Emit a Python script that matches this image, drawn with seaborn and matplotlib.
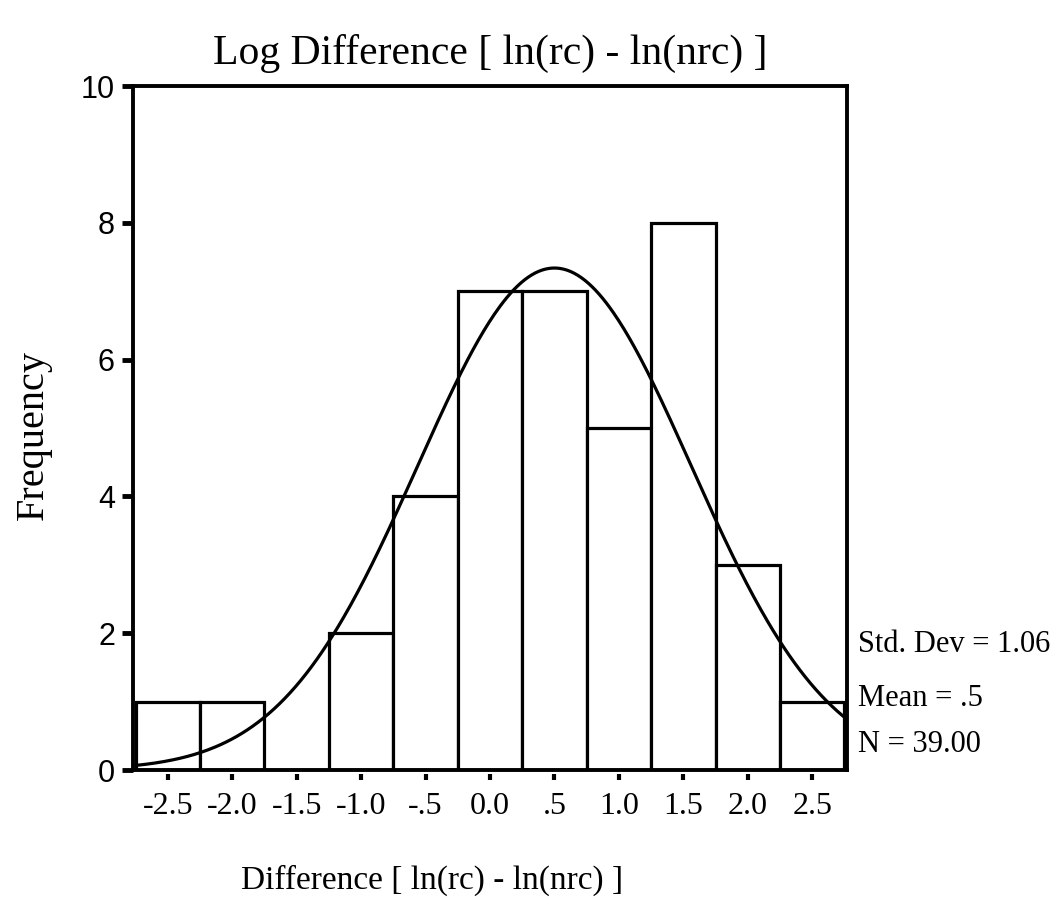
import numpy as np
import pandas as pd
import matplotlib
matplotlib.use("Agg")
import matplotlib.pyplot as plt
from matplotlib.path import Path
from matplotlib.markers import MarkerStyle
import seaborn as sns

# Histogram of the log difference, binned at width 0.5
bin_centers = [-2.5, -2.0, -1.5, -1.0, -0.5, 0.0, 0.5, 1.0, 1.5, 2.0, 2.5]
frequencies = [1, 1, 0, 2, 4, 7, 7, 5, 8, 3, 1]
tick_labels = ["-2.5", "-2.0", "-1.5", "-1.0", "-.5", "0.0", ".5", "1.0", "1.5", "2.0", "2.5"]
bin_width = 0.5

# Summary statistics reported beside the plot
std_dev = 1.06
mean = 0.5
n_obs = 39

serif = ["Liberation Serif", "DejaVu Serif"]
sans = ["Liberation Sans", "DejaVu Sans"]

sns.set_style("white")
plt.rcParams.update({
    "font.family": serif,
    "text.color": "black",
    "axes.labelcolor": "black",
    "xtick.color": "black",
    "ytick.color": "black",
})

df = pd.DataFrame({"diff": bin_centers, "freq": frequencies})
lo = bin_centers[0] - bin_width / 2
hi = bin_centers[-1] + bin_width / 2

fig = plt.figure(figsize=(10.56, 9.17), dpi=100)
ax = fig.add_axes([0.1259, 0.1603, 0.6762, 0.7459])

sns.histplot(data=df, x="diff", weights="freq", binwidth=bin_width, binrange=(lo, hi),
             stat="count", color="white", edgecolor="black", linewidth=2.3, alpha=1.0, ax=ax)

# Fitted normal curve scaled to counts per bin
xs = np.linspace(lo, hi, 400)
ys = n_obs * bin_width / (std_dev * np.sqrt(2 * np.pi)) * np.exp(-0.5 * ((xs - mean) / std_dev) ** 2)
sns.lineplot(x=xs, y=ys, color="black", linewidth=2.3, ax=ax)

ax.set_xlim(-2.77, 2.77)
ax.set_ylim(0, 10)

for side in ["left", "right", "top", "bottom"]:
    ax.spines[side].set_visible(True)
    ax.spines[side].set_linewidth(2.8)
    ax.spines[side].set_color("black")

ax.set_yticks([0, 2, 4, 6, 8, 10])
ax.set_yticklabels(["0", "2", "4", "6", "8", "10"], family=sans, fontsize=22, color="black")
ax.tick_params(axis="y", direction="out", length=8, width=3.5, pad=5, color="black", left=True)

ax.set_xticks(bin_centers)
ax.set_xticklabels(tick_labels, family=serif, fontsize=23, color="black")
ax.tick_params(axis="x", direction="out", length=0, width=3, pad=16, color="black", bottom=True)

# Small detached tick marks just below the x axis
tick_path = Path([(0, -0.35), (0, -1.0)], [Path.MOVETO, Path.LINETO])
for t in ax.xaxis.get_major_ticks():
    t.tick1line.set_marker(MarkerStyle(tick_path))
    t.tick1line.set_markersize(14.4)
    t.tick1line.set_markeredgewidth(3.0)
    t.tick1line.set_markeredgecolor("black")

ax.set_xlabel("Difference [ ln(rc) - ln(nrc) ]", fontsize=24, family=serif, color="black")
ax.xaxis.set_label_coords(0.419, -0.138)
ax.set_ylabel("Frequency", fontsize=29, family=serif, color="black")
ax.yaxis.set_label_coords(-0.113, 0.49)
ax.set_title("Log Difference [ ln(rc) - ln(nrc) ]", fontsize=30, family=serif, pad=16, color="black")

stats = [f"Std. Dev = {std_dev:.2f}", f"Mean = {mean:.1f}".replace("0.", "."), f"N = {n_obs:.2f}"]
for label, ypos in zip(stats, [0.183, 0.105, 0.037]):
    ax.text(1.0154, ypos, label, transform=ax.transAxes, ha="left", va="center",
            fontsize=22, family=serif, color="black")

fig.savefig("out.png", dpi=100)
